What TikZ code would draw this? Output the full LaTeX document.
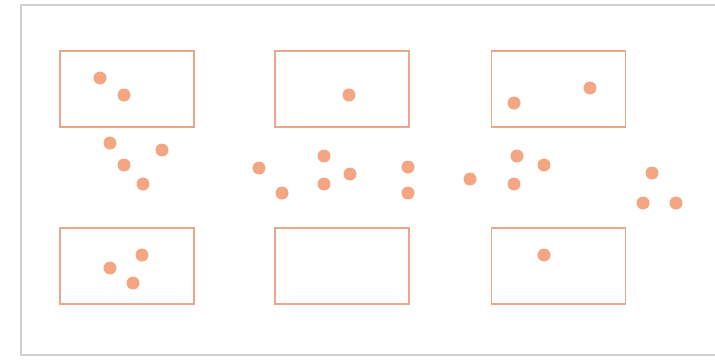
\documentclass[tikz,border=0pt]{standalone}
\definecolor{salmon}{HTML}{F4A582}
\definecolor{boxline}{HTML}{E9A688}
\definecolor{frame}{HTML}{CFCFCF}
\begin{document}
\begin{tikzpicture}[x=1pt,y=-1pt,
  box/.style={draw=boxline,line width=1.3pt,minimum width=134pt,minimum height=76pt,inner sep=0pt},
  dot/.style={circle,fill=salmon,minimum size=13pt,inner sep=0pt}]
  \useasboundingbox (0,0) rectangle (715,360);
  % frame, open on the right
  \draw[frame,line width=2.5pt] (715,5) -- (21,5) -- (21,355) -- (715,355);
  % top row of boxes
  \node[box] (ta) at (127,89) {};
  \node[box] (tb) at (342,89) {};
  \node[box] (tc) at (558.5,89) {};
  % bottom row of boxes
  \node[box] (ba) at (127,266) {};
  \node[box] (bb) at (342,266) {};
  \node[box] (bc) at (558.5,266) {};
  % points inside the boxes
  \node[dot] (ta1) at (100,78) {}; \node[dot] (ta2) at (124,95) {};
  \node[dot] (tb1) at (349,95) {};
  \node[dot] (tc1) at (514,103) {}; \node[dot] (tc2) at (590,88) {};
  \node[dot] (ba1) at (110,268) {}; \node[dot] (ba2) at (142,255) {}; \node[dot] (ba3) at (133,283) {};
  \node[dot] (bc1) at (544,255) {};
  % loose points between the rows
  \node[dot] (m1) at (110,143) {}; \node[dot] (m2) at (124,165) {}; \node[dot] (m3) at (162,150) {}; \node[dot] (m4) at (143,184) {};
  \node[dot] (m5) at (259,168) {}; \node[dot] (m6) at (282,193) {}; \node[dot] (m7) at (324,156) {}; \node[dot] (m8) at (324,184) {}; \node[dot] (m9) at (350,174) {};
  \node[dot] (m10) at (408,167) {}; \node[dot] (m11) at (408,193) {}; \node[dot] (m12) at (470,179) {};
  \node[dot] (m13) at (517,156) {}; \node[dot] (m14) at (544,165) {}; \node[dot] (m15) at (514,184) {};
  \node[dot] (m16) at (652,173) {}; \node[dot] (m17) at (643,203) {}; \node[dot] (m18) at (676,203) {};
\end{tikzpicture}
\end{document}
